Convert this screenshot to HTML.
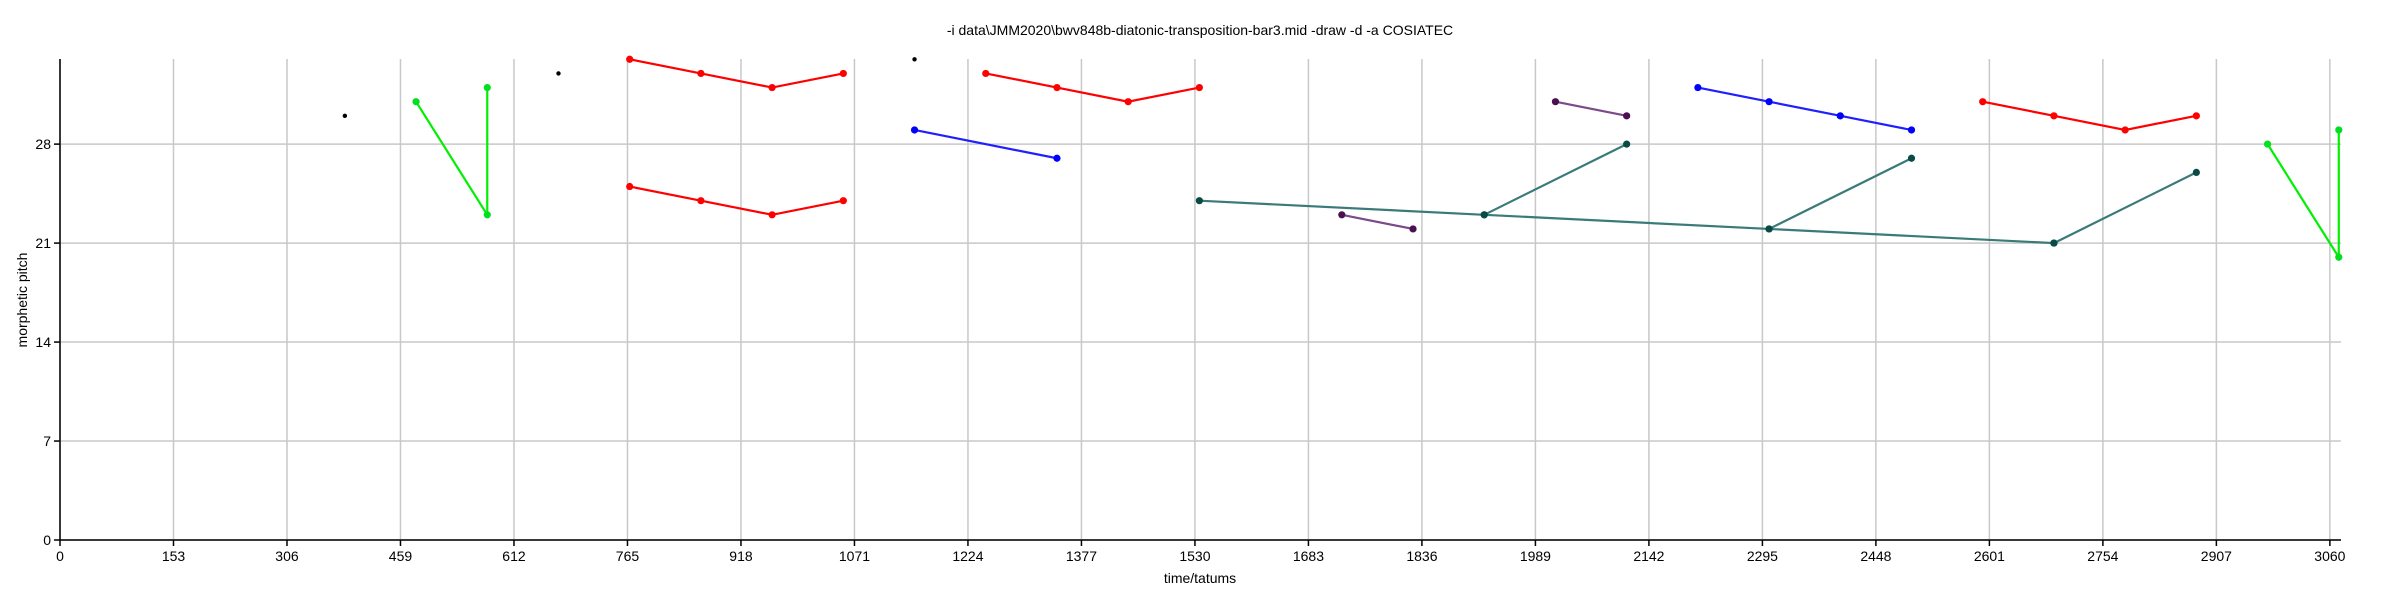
<!DOCTYPE html>
<html><head><meta charset="utf-8"><style>
body{margin:0;background:#fff;}
svg{display:block;font-family:"Liberation Sans",sans-serif;}
</style></head><body>
<svg id="chart" width="2388" height="589"></svg>
<script>
const xTicks=[0,153,306,459,612,765,918,1071,1224,1377,1530,1683,1836,1989,2142,2295,2448,2601,2754,2907,3060];
const yTicks=[0,7,14,21,28];
const singleT=[384,672,1152];
const singleP=[30,33,34];
const green1T=[480,576,576];
const green1P=[31,23,32];
const red1T=[768,864,960,1056];
const red1P=[34,33,32,33];
const red2T=[768,864,960,1056];
const red2P=[25,24,23,24];
const blue1T=[1152,1344];
const blue1P=[29,27];
const red3T=[1248,1344,1440,1536];
const red3P=[33,32,31,32];
const tealMainT=[1536,1920,2304,2688];
const tealMainP=[24,23,22,21];
const tealBranchFromT=[1920,2304,2688];
const tealBranchFromP=[23,22,21];
const tealBranchToT=[2112,2496,2880];
const tealBranchToP=[28,27,26];
const purple1T=[1728,1824];
const purple1P=[23,22];
const purple2T=[2016,2112];
const purple2P=[31,30];
const blue2T=[2208,2304,2400,2496];
const blue2P=[32,31,30,29];
const red4T=[2592,2688,2784,2880];
const red4P=[31,30,29,30];
const green2T=[2976,3072,3072];
const green2P=[28,20,29];

const X0=60,X1=2341,Y0=540,Y1=59,XMAX=3075,YMAX=34.02;
const sx=t=>X0+t/XMAX*(X1-X0);
const sy=p=>Y0-p/YMAX*(Y0-Y1);
const svg=document.getElementById('chart');
const NS='http://www.w3.org/2000/svg';
function mk(tag,attrs,parent){const e=document.createElementNS(NS,tag);for(const k in attrs)e.setAttribute(k,attrs[k]);(parent||svg).appendChild(e);return e;}

xTicks.forEach(t=>{const l=mk('line',{x1:sx(t),x2:sx(t),y1:Y1,y2:Y0,stroke:'#c8c8c8','stroke-width':1.5});

});
yTicks.forEach(p=>{const l=mk('line',{x1:X0,x2:X1,y1:sy(p),y2:sy(p),stroke:'#c8c8c8','stroke-width':1.5});

});
const xa=mk('line',{x1:X0,x2:X1,y1:Y0,y2:Y0,stroke:'#000','stroke-width':1.5});


const ya=mk('line',{x1:X0,x2:X0,y1:Y1,y2:Y0,stroke:'#000','stroke-width':1.5});


xTicks.forEach(t=>{mk('line',{x1:sx(t),x2:sx(t),y1:Y0,y2:Y0+6,stroke:'#000','stroke-width':1.5});
const tx=mk('text',{x:sx(t),y:Y0+21,'text-anchor':'middle','font-size':14,fill:'#000'});tx.textContent=t;

});
yTicks.forEach(p=>{mk('line',{x1:X0-6,x2:X0,y1:sy(p),y2:sy(p),stroke:'#000','stroke-width':1.5});
const tx=mk('text',{x:X0-9,y:sy(p)+5,'text-anchor':'end','font-size':14,fill:'#000'});tx.textContent=p;

});

function poly(T,P,lineCol,ptCol,name){
  const pts=T.map((t,i)=>sx(t)+','+sy(P[i])).join(' ');
  const pl=mk('polyline',{points:pts,fill:'none',stroke:lineCol,'stroke-width':2.2});
  
  
  T.forEach((t,i)=>{const c=mk('circle',{cx:sx(t),cy:sy(P[i]),r:3.6,fill:ptCol});
  
  });
}
singleT.forEach((t,i)=>{const c=mk('circle',{cx:sx(t),cy:sy(singleP[i]),r:2.2,fill:'#000'});

});
poly(green1T,green1P,'#00f000','#00e020','green-pattern-1');
poly(red1T,red1P,'#ff0000','#ff0000','red-pattern-1');
poly(red2T,red2P,'#ff0000','#ff0000','red-pattern-2');
poly(blue1T,blue1P,'#2020ff','#0000ff','blue-pattern-1');
poly(red3T,red3P,'#ff0000','#ff0000','red-pattern-3');
poly(tealMainT,tealMainP,'#3a7a78','#0a4a45','teal-pattern');
tealBranchFromT.forEach((t,i)=>poly([t,tealBranchToT[i]],[tealBranchFromP[i],tealBranchToP[i]],'#3a7a78','#0a4a45','teal-branch'));
poly(purple1T,purple1P,'#7a4a8a','#4a1050','purple-pattern-1');
poly(purple2T,purple2P,'#7a4a8a','#4a1050','purple-pattern-2');
poly(blue2T,blue2P,'#2020ff','#0000ff','blue-pattern-2');
poly(red4T,red4P,'#ff0000','#ff0000','red-pattern-4');
poly(green2T,green2P,'#00f000','#00e020','green-pattern-2');

const title=mk('text',{x:1200,y:35,'text-anchor':'middle','font-size':14,fill:'#000'});
title.textContent='-i data\\JMM2020\\bwv848b-diatonic-transposition-bar3.mid -draw -d -a COSIATEC';


const xt=mk('text',{x:1200,y:583,'text-anchor':'middle','font-size':14,fill:'#000'});
xt.textContent='time/tatums';


const yt=mk('text',{x:0,y:0,'text-anchor':'middle','font-size':14,fill:'#000',transform:'translate(27,300) rotate(-90)'});
yt.textContent='morphetic pitch';


</script>
</body></html>
